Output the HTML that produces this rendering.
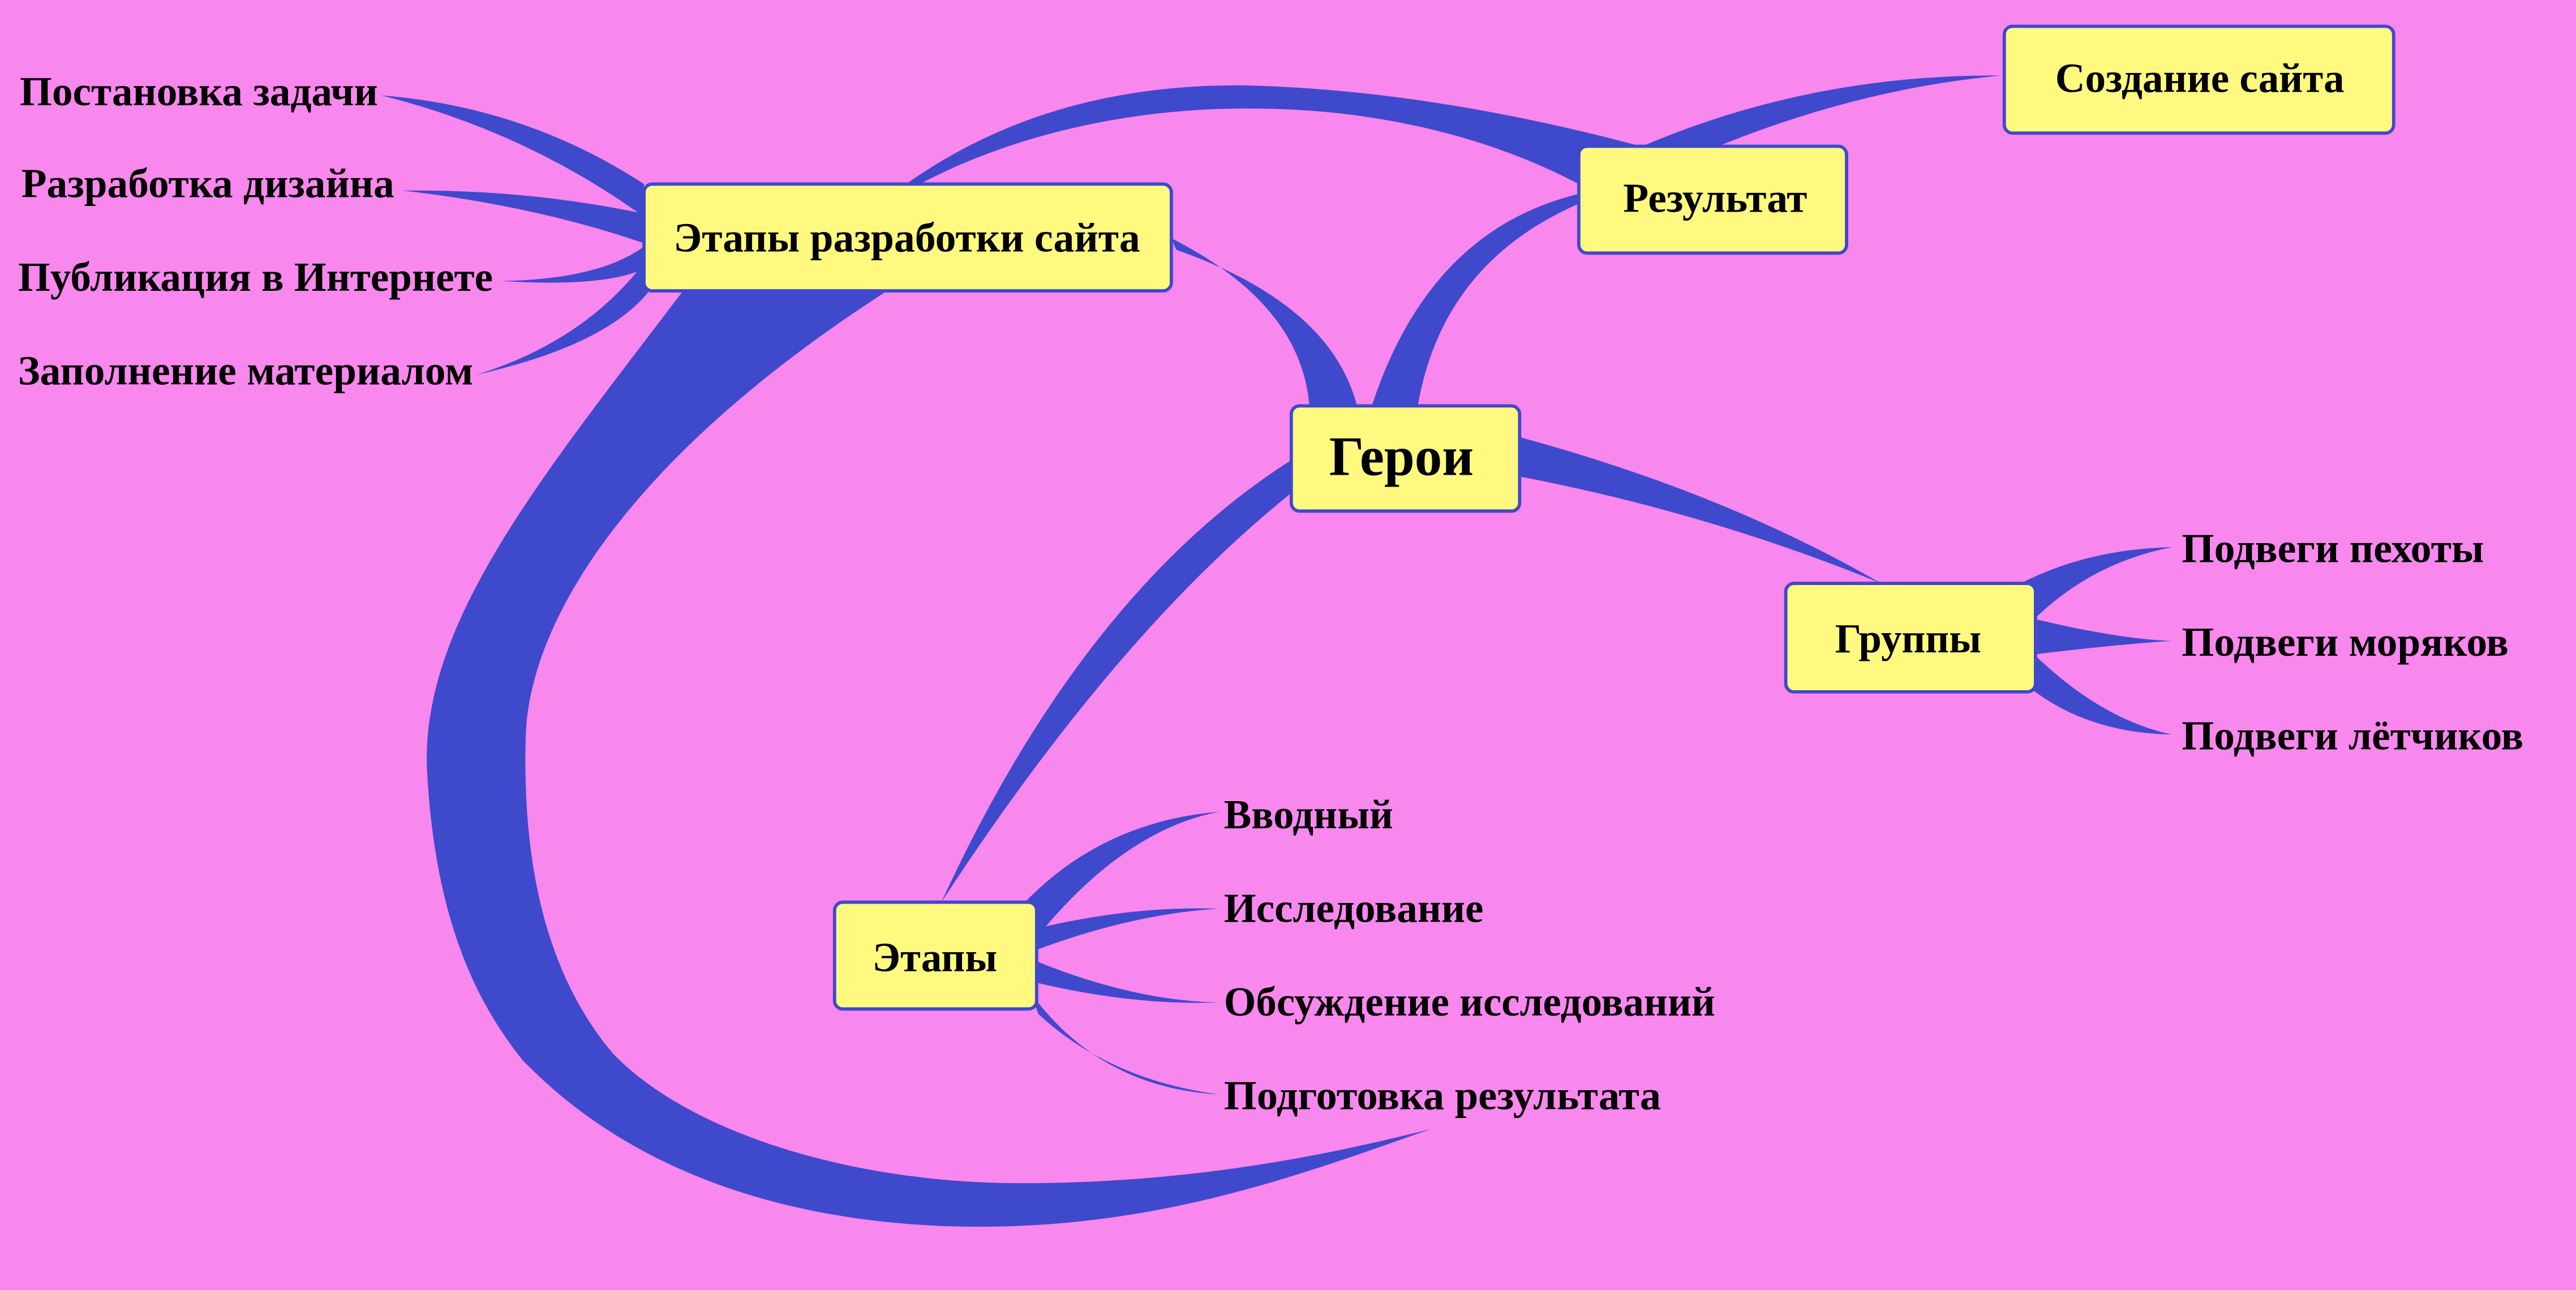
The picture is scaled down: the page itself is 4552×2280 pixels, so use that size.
<!DOCTYPE html>
<html><head><meta charset="utf-8">
<style>
html,body{margin:0;padding:0;background:#f887ee;}
svg{display:block;}
text{font-family:"Liberation Serif","Noto Serif CJK SC",serif;font-weight:bold;fill:#000;}
</style></head>
<body>
<svg width="4552" height="2280" viewBox="0 0 1568 785" preserveAspectRatio="none" xmlns="http://www.w3.org/2000/svg">
<rect width="1568" height="785" fill="#f887ee"/>
<g fill="#3f49cc">
<!-- big loop -->
<path d="M415,178 C330,290 255,380 260,470 C265,560 290,610 318,645 C400,730 520,750 620,746 C720,742 800,712 871,687 C800,705 720,720 621,720 C520,720 420,690 373,641 C330,590 318,520 320,448 C322,380 380,280 540,177 Z"/>
<!-- top arc to Результат -->
<path d="M553,111 Q640,50 760,52 Q870,55 995,88 L961,112 C900,80 830,66 760,66 C680,66 610,85 558,113 Z"/>
<!-- Результат -> Создание -->
<path d="M995,91 Q1100,45 1218,46 Q1120,55 1020,100 Z"/>
<!-- left children -->
<path d="M392,112 Q320,65 232,58 Q320,80 392,132 Z"/>
<path d="M392,130 Q320,115 245,116 Q325,125 392,148 Z"/>
<path d="M392,150 Q365,170 305,171 Q370,175 393,163 Z"/>
<path d="M392,160 Q355,208 290,228 Q370,210 396,176 Z"/>
<!-- Этапы разработки -> Герои -->
<path d="M713,145 Q792,185 797,247 L826,247 Q810,185 716,152 Z"/>
<!-- Результат -> Герои -->
<path d="M961,118 Q870,140 835,247 L863,247 Q878,160 961,124 Z"/>
<!-- Герои -> Этапы -->
<path d="M786,280 Q660,360 573,549 Q680,385 786,300 Z"/>
<!-- Герои -> Группы -->
<path d="M925,266 Q1050,300 1145,355 Q1040,312 925,290 Z"/>
<!-- Группы children -->
<path d="M1228,356 Q1270,334 1322,333 Q1275,342 1240,375 Z"/>
<path d="M1240,377 Q1290,389 1322,390 Q1290,392 1240,398 Z"/>
<path d="M1235,418 Q1270,446 1322,447 Q1280,438 1240,400 Z"/>
<!-- Этапы children -->
<path d="M622,551 Q670,500 742,494 Q685,505 633,568 Z"/>
<path d="M631,565 Q690,551 742,553 Q690,556 631,578 Z"/>
<path d="M631,585 Q690,609 742,610 Q690,612 631,598 Z"/>
<path d="M628,605 Q670,662 742,666 Q675,657 632,617 Z"/>
</g>
<g fill="#fff97f" stroke="#3f49cc" stroke-width="2">
<rect x="392" y="112" width="321" height="65" rx="5"/>
<rect x="1220" y="16" width="237" height="65" rx="5"/>
<rect x="961" y="89" width="163" height="65" rx="5"/>
<rect x="786" y="247" width="139" height="64" rx="5"/>
<rect x="1087" y="355" width="152" height="66" rx="5"/>
<rect x="508" y="549" width="123" height="65" rx="5"/>
</g>
<g font-size="25">
<text x="410" y="153" textLength="284" lengthAdjust="spacingAndGlyphs">Этапы разработки сайта</text>
<text x="1251" y="56" textLength="176" lengthAdjust="spacingAndGlyphs">Создание сайта</text>
<text x="988" y="129" textLength="112" lengthAdjust="spacingAndGlyphs">Результат</text>
<text x="1117" y="397" textLength="89" lengthAdjust="spacingAndGlyphs">Группы</text>
<text x="531" y="591" textLength="76" lengthAdjust="spacingAndGlyphs">Этапы</text>
<text x="12" y="64" textLength="218" lengthAdjust="spacingAndGlyphs">Постановка задачи</text>
<text x="13" y="120" textLength="227" lengthAdjust="spacingAndGlyphs">Разработка дизайна</text>
<text x="11" y="177" textLength="289" lengthAdjust="spacingAndGlyphs">Публикация в Интернете</text>
<text x="11" y="234" textLength="277" lengthAdjust="spacingAndGlyphs">Заполнение материалом</text>
<text x="1328" y="342" textLength="184" lengthAdjust="spacingAndGlyphs">Подвеги пехоты</text>
<text x="1328" y="399" textLength="199" lengthAdjust="spacingAndGlyphs">Подвеги моряков</text>
<text x="1328" y="456" textLength="208" lengthAdjust="spacingAndGlyphs">Подвеги лётчиков</text>
<text x="745" y="504" textLength="103" lengthAdjust="spacingAndGlyphs">Вводный</text>
<text x="745" y="561" textLength="158" lengthAdjust="spacingAndGlyphs">Исследование</text>
<text x="745" y="618" textLength="299" lengthAdjust="spacingAndGlyphs">Обсуждение исследований</text>
<text x="745" y="675" textLength="266" lengthAdjust="spacingAndGlyphs">Подготовка результата</text>
</g>
<text x="809" y="289" font-size="34" textLength="88" lengthAdjust="spacingAndGlyphs">Герои</text>
</svg>
</body></html>
